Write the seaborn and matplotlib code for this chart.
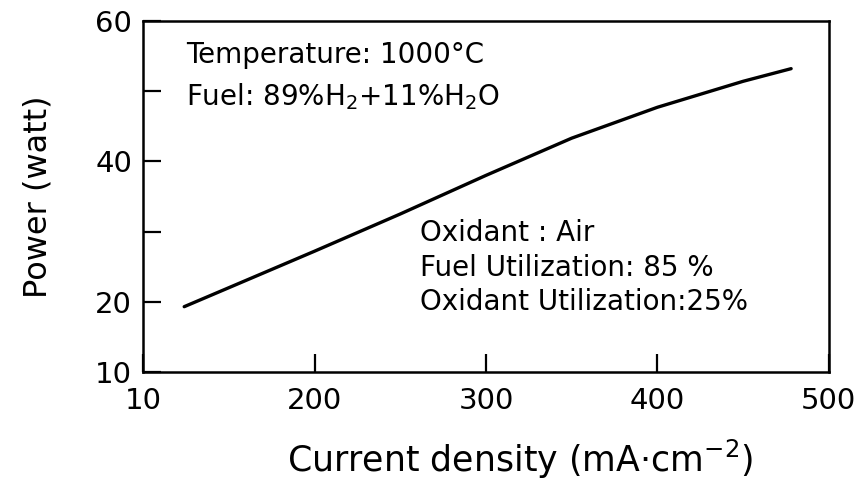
import matplotlib
matplotlib.use("Agg")
import matplotlib.pyplot as plt
import numpy as np
import pandas as pd
import seaborn as sns

# current density (mA/cm2) vs power (watt)
current = [124, 150, 200, 250, 300, 350, 400, 450, 478]
power = [19.3, 22.0, 27.2, 32.5, 38.0, 43.3, 47.7, 51.4, 53.2]

x_ticks = [100, 200, 300, 400, 500]
x_labels = ["10", "200", "300", "400", "500"]
y_ticks = [10, 20, 30, 40, 50, 60]
y_labels = ["10", "20", "", "40", "", "60"]

notes_top = ["Temperature: 1000°C", r"Fuel: 89%H$_2$+11%H$_2$O"]
notes_bottom = ["Oxidant : Air", "Fuel Utilization: 85 %", "Oxidant Utilization:25%"]

sns.set_theme(style="ticks")
plt.rcParams["font.family"] = ["DejaVu Sans"]
plt.rcParams["mathtext.fontset"] = "dejavusans"

df = pd.DataFrame({"current": current, "power": power})

fig = plt.figure(figsize=(8.67, 4.91), dpi=100)
ax = fig.add_axes([0.165, 0.2424, 0.791, 0.715])

sns.lineplot(data=df, x="current", y="power", color="black", linewidth=2.4, ax=ax)

ax.set_xlim(100, 500)
ax.set_ylim(10, 60)
ax.set_xticks(x_ticks)
ax.set_xticklabels(x_labels)
ax.set_yticks(y_ticks)
ax.set_yticklabels(y_labels)
ax.tick_params(axis="both", direction="in", length=13, width=1.6, labelsize=21, colors="black")
ax.tick_params(axis="x", pad=11)
ax.tick_params(axis="y", pad=8)
for s in ax.spines.values():
    s.set_linewidth(1.8)
    s.set_color("black")

ax.set_xlabel("Current density (mA·cm$^{-2}$)", fontsize=25, labelpad=16, color="black")
ax.xaxis.label.set_x(0.55)
ax.set_ylabel("Power (watt)", fontsize=23, labelpad=30, color="black")

for i, t in enumerate(notes_top):
    ax.text(0.063, 0.903 - i * 0.12, t, transform=ax.transAxes, fontsize=20,
            va="center", ha="left", color="black")
for i, t in enumerate(notes_bottom):
    ax.text(0.404, 0.396 - i * 0.099, t, transform=ax.transAxes, fontsize=20,
            va="center", ha="left", color="black")

plt.savefig("out.png", dpi=100)
